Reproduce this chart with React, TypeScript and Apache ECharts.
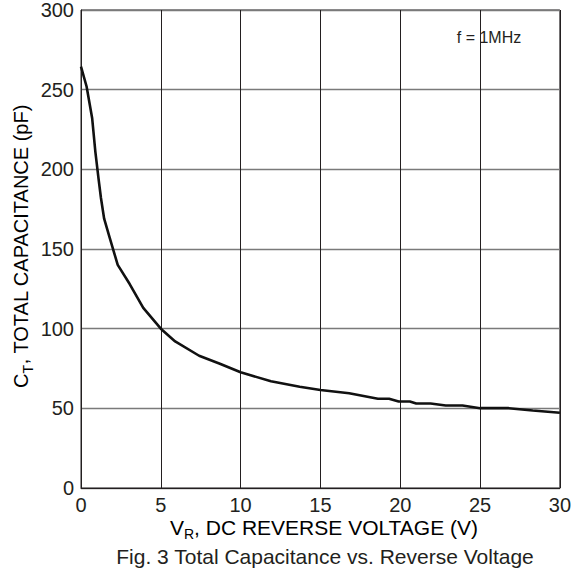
import React, { useEffect, useRef } from "react";
import * as echarts from "echarts";

const voltage = [0, 0.35, 0.7, 0.9, 1.1, 1.25, 1.45, 1.8, 2.3, 3.05, 3.9, 5, 5.9, 7.4, 8.7, 10, 11.9, 13.7, 15, 16.8, 18.6, 19.3, 19.9, 20.6, 21, 21.9, 22.85, 23.9, 25, 26.8, 28.3, 30];
const capacitance = [264.5, 252, 232, 211, 194, 182, 169, 157, 140, 128, 113, 100, 92, 83, 78, 72.6, 67, 63.6, 61.5, 59.5, 56, 56, 54.3, 54.3, 53, 53, 51.8, 51.8, 50.1, 50.1, 48.6, 47.2];

const xTitle = ["V", "R", ", DC REVERSE VOLTAGE (V)"];
const yTitle = ["C", "T", ", TOTAL CAPACITANCE (pF)"];
const caption = "Fig. 3 Total Capacitance vs. Reverse Voltage";
const note = "f = 1MHz";

const TEXT = "#231f20";
const FONT = "Liberation Sans, Arial, sans-serif";

function richFor(size: number, sub: number) {
  return {
    a: { fontSize: size, fontFamily: FONT, color: TEXT, lineHeight: 28, verticalAlign: "middle" },
    s: { fontSize: sub, fontFamily: FONT, color: TEXT, lineHeight: 12, verticalAlign: "bottom" },
  };
}

export default function App() {
  const ref = useRef<HTMLDivElement>(null);
  useEffect(() => {
    if (!ref.current) return;
    const chart = echarts.init(ref.current, null, { renderer: "svg" });
    chart.setOption({
      animation: false,
      backgroundColor: "#ffffff",
      grid: {
        left: 81,
        top: 7,
        right: 13,
        bottom: 85,
        show: true,
        borderColor: TEXT,
        borderWidth: 1,
        backgroundColor: "transparent",
      },
      xAxis: {
        type: "value",
        min: 0,
        max: 30,
        interval: 5,
        axisLine: { show: true, onZero: false, lineStyle: { color: TEXT, width: 1 } },
        axisTick: { show: false },
        axisLabel: { color: TEXT, fontSize: 20, fontFamily: FONT, margin: 7 },
        splitLine: { show: true, lineStyle: { color: TEXT, width: 1 } },
      },
      yAxis: {
        type: "value",
        min: 0,
        max: 300,
        interval: 50,
        axisLine: { show: true, lineStyle: { color: TEXT, width: 1 } },
        axisTick: { show: false },
        axisLabel: { color: TEXT, fontSize: 20, fontFamily: FONT, margin: 7 },
        splitLine: { show: true, lineStyle: { color: "#7a7a7a", width: 1.3 } },
      },
      series: [
        {
          type: "line",
          data: voltage.map((v, i) => [v, capacitance[i]]),
          showSymbol: false,
          symbol: "none",
          smooth: false,
          lineStyle: { color: "#111111", width: 2.6 },
          z: 5,
        },
      ],
      graphic: [
        {
          type: "text",
          x: 324,
          y: 527,
          style: {
            text: `{a|${xTitle[0]}}{s|${xTitle[1]}}{a|${xTitle[2]}}`,
            rich: richFor(21, 14),
            align: "center",
            verticalAlign: "middle",
          },
        },
        {
          type: "text",
          x: 21,
          y: 246,
          rotation: Math.PI / 2,
          style: {
            text: `{a|${yTitle[0]}}{s|${yTitle[1]}}{a|${yTitle[2]}}`,
            rich: richFor(20, 14),
            align: "center",
            verticalAlign: "middle",
          },
        },
        {
          type: "text",
          x: 325,
          y: 556,
          style: {
            text: caption,
            fontSize: 21,
            fontFamily: FONT,
            fill: TEXT,
            align: "center",
            verticalAlign: "middle",
          },
        },
        {
          type: "text",
          x: 489,
          y: 37,
          style: {
            text: note,
            fontSize: 16,
            fontFamily: FONT,
            fill: TEXT,
            align: "center",
            verticalAlign: "middle",
          },
        },
      ],
    });
    return () => chart.dispose();
  }, []);
  return (
    <div
      ref={ref}
      style={{ position: "fixed", left: 0, top: 0, width: 574, height: 573, background: "#fff" }}
    />
  );
}
